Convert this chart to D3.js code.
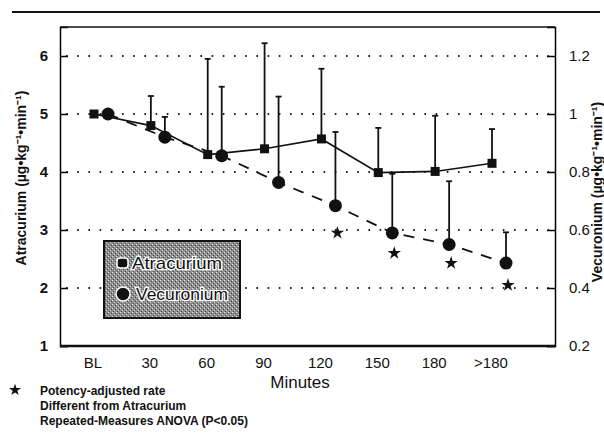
<!DOCTYPE html>
<html>
<head>
<meta charset="utf-8">
<script src="https://cdn.jsdelivr.net/npm/d3@7"></script>
<style>
body { margin: 0; background: #fff; }
svg text { font-family: "Liberation Sans Narrow", "Arial Narrow", "Liberation Sans", Arial, sans-serif; fill: #111; }
</style>
</head>
<body>
<div id="chart"></div>
<script>
var categories = ["BL", "30", "60", "90", "120", "150", "180", ">180"];
// Atracurium, left axis
var atraMean = [5.0, 4.80, 4.30, 4.40, 4.57, 3.99, 4.01, 4.15];
var atraUpper = [null, 5.31, 5.95, 6.22, 5.78, 4.76, 4.97, 4.74];
// Vecuronium, right axis
var vecMean = [1.0, 0.92, 0.856, 0.764, 0.684, 0.59, 0.55, 0.486];
var vecUpper = [null, 0.99, 1.094, 1.06, 0.938, 0.794, 0.768, 0.592];
// significance stars (right-axis units)
var starCats = ["120", "150", "180", ">180"];
var starVals = [0.59, 0.52, 0.486, 0.41];
var leftTicks = [1, 2, 3, 4, 5, 6];
var rightTicks = [0.2, 0.4, 0.6, 0.8, 1, 1.2];
var footnote = ["Potency-adjusted rate", "Different from Atracurium", "Repeated-Measures ANOVA (P<0.05)"];

var width = 604, height = 448;
var margin = {top: 27, right: 49, bottom: 102, left: 60};

var svg = d3.select("#chart").append("svg")
	.attr("width", width)
	.attr("height", height);

var yL = d3.scaleLinear().domain([1, 6.5]).range([height - margin.bottom, margin.top]);
var yR = d3.scaleLinear().domain([0.2, 1.3]).range([height - margin.bottom, margin.top]);
var x = d3.scalePoint().domain(categories).range([93, 491]);

// top rule
svg.append("line")
	.attr("x1", 12).attr("x2", 600)
	.attr("y1", 12).attr("y2", 12)
	.attr("stroke", "#111").attr("stroke-width", 2);

// dotted grid
svg.append("g").selectAll("line")
	.data([2, 3, 4, 5, 6])
	.enter().append("line")
	.attr("x1", margin.left + 6).attr("x2", width - margin.right - 6)
	.attr("y1", function(d) { return yL(d); })
	.attr("y2", function(d) { return yL(d); })
	.attr("stroke", "#222").attr("stroke-width", 2)
	.attr("stroke-dasharray", "1.6,9.6");

// left axis
var leftAxis = d3.axisLeft(yL).tickValues(leftTicks).tickSize(-8).tickPadding(12).tickFormat(d3.format("d"));
var gl = svg.append("g")
	.attr("transform", "translate(" + margin.left + ",0)")
	.call(leftAxis);
gl.select(".domain").attr("stroke-width", 1.5);
gl.selectAll(".tick line").attr("stroke-width", 1.5);
gl.selectAll(".tick text").attr("font-size", "15px").attr("font-weight", "bold").attr("fill", "#111")
	.style("font-family", "'Liberation Sans', Arial, sans-serif");

// right axis
var rightAxis = d3.axisRight(yR).tickValues(rightTicks).tickSize(-8).tickPadding(14).tickFormat(d3.format("~g"));
var gr = svg.append("g")
	.attr("transform", "translate(" + (width - margin.right) + ",0)")
	.call(rightAxis);
gr.select(".domain").attr("stroke-width", 1.5);
gr.selectAll(".tick line").attr("stroke-width", 1.5);
gr.selectAll(".tick text").attr("font-size", "15px").attr("fill", "#111")
	.style("font-family", "'Liberation Sans', Arial, sans-serif");

// top and bottom of the box
svg.append("line")
	.attr("x1", margin.left).attr("x2", width - margin.right)
	.attr("y1", margin.top).attr("y2", margin.top)
	.attr("stroke", "#111").attr("stroke-width", 1.5);
svg.append("line")
	.attr("x1", margin.left).attr("x2", width - margin.right)
	.attr("y1", height - margin.bottom).attr("y2", height - margin.bottom)
	.attr("stroke", "#111").attr("stroke-width", 2.5);

// category labels
svg.append("g").selectAll("text")
	.data(categories)
	.enter().append("text")
	.attr("x", function(d) { return x(d); })
	.attr("y", 368)
	.attr("text-anchor", "middle")
	.attr("font-size", "15px")
	.style("font-family", "'Liberation Sans', Arial, sans-serif")
	.text(function(d) { return d; });

// axis titles
svg.append("text")
	.attr("x", 300).attr("y", 388)
	.attr("text-anchor", "middle")
	.attr("font-size", "17px")
	.style("font-family", "'Liberation Sans', Arial, sans-serif")
	.text("Minutes");

svg.append("text")
	.attr("transform", "translate(26,178) rotate(-90)")
	.attr("text-anchor", "middle")
	.attr("font-size", "14px")
	.attr("font-weight", "bold")
	.text("Atracurium (\u00b5g\u2022kg\u207b\u00b9\u2022min\u207b\u00b9)");

svg.append("text")
	.attr("transform", "translate(602,192) rotate(-90)")
	.attr("text-anchor", "middle")
	.attr("font-size", "14px")
	.attr("font-weight", "bold")
	.text("Vecuronium (\u00b5g\u2022kg\u207b\u00b9\u2022min\u207b\u00b9)");

var sqOff = 1, ciOff = 15;

// error bars
function errorBars(means, uppers, y, off) {
	var g = svg.append("g");
	categories.forEach(function(c, i) {
		if (uppers[i] == null) return;
		var cx = x(c) + off;
		g.append("line")
			.attr("x1", cx).attr("x2", cx)
			.attr("y1", y(means[i])).attr("y2", y(uppers[i]))
			.attr("stroke", "#111").attr("stroke-width", 1.8);
		g.append("line")
			.attr("x1", cx - 3).attr("x2", cx + 3)
			.attr("y1", y(uppers[i])).attr("y2", y(uppers[i]))
			.attr("stroke", "#111").attr("stroke-width", 1.8);
	});
}
errorBars(atraMean, atraUpper, yL, sqOff);
errorBars(vecMean, vecUpper, yR, ciOff);

// lines
var atraLine = d3.line()
	.x(function(d, i) { return x(categories[i]) + sqOff; })
	.y(function(d) { return yL(d); });
var vecLine = d3.line()
	.x(function(d, i) { return x(categories[i]) + ciOff; })
	.y(function(d) { return yR(d); });

svg.append("path")
	.datum(vecMean)
	.attr("d", vecLine)
	.attr("fill", "none").attr("stroke", "#111").attr("stroke-width", 1.8)
	.attr("stroke-dasharray", "11,9");
svg.append("path")
	.datum(atraMean)
	.attr("d", atraLine)
	.attr("fill", "none").attr("stroke", "#111").attr("stroke-width", 1.6);

// markers
svg.append("g").selectAll("rect")
	.data(atraMean)
	.enter().append("rect")
	.attr("x", function(d, i) { return x(categories[i]) + sqOff - 4.5; })
	.attr("y", function(d) { return yL(d) - 4.5; })
	.attr("width", 9).attr("height", 9)
	.attr("fill", "#111");

svg.append("g").selectAll("circle")
	.data(vecMean)
	.enter().append("circle")
	.attr("cx", function(d, i) { return x(categories[i]) + ciOff; })
	.attr("cy", function(d) { return yR(d); })
	.attr("r", 6.5)
	.attr("fill", "#111");

// stars
var star = d3.symbol().type(d3.symbolStar).size(55);
svg.append("g").selectAll("path")
	.data(starVals)
	.enter().append("path")
	.attr("d", star)
	.attr("transform", function(d, i) { return "translate(" + (x(starCats[i]) + ciOff + 2) + "," + yR(d) + ")"; })
	.attr("fill", "#111");

// legend
var defs = svg.append("defs");
var pat = defs.append("pattern")
	.attr("id", "stipple")
	.attr("width", 4).attr("height", 4)
	.attr("patternUnits", "userSpaceOnUse");
pat.append("rect").attr("width", 4).attr("height", 4).attr("fill", "#8c8c8c");
pat.append("rect").attr("x", 0).attr("y", 0).attr("width", 1).attr("height", 1).attr("fill", "#e6e6e6");
pat.append("rect").attr("x", 2).attr("y", 2).attr("width", 1).attr("height", 1).attr("fill", "#d0d0d0");
pat.append("rect").attr("x", 3).attr("y", 1).attr("width", 1).attr("height", 1).attr("fill", "#444");
pat.append("rect").attr("x", 1).attr("y", 3).attr("width", 1).attr("height", 1).attr("fill", "#555");

var legend = svg.append("g");
legend.append("rect")
	.attr("x", 104).attr("y", 241)
	.attr("width", 136).attr("height", 77)
	.attr("fill", "url(#stipple)")
	.attr("stroke", "#111").attr("stroke-width", 2);
legend.append("rect")
	.attr("x", 117).attr("y", 258).attr("width", 11).attr("height", 10)
	.attr("rx", 3)
	.attr("fill", "#111").attr("stroke", "#fff").attr("stroke-width", 1.5);
legend.append("circle")
	.attr("cx", 123).attr("cy", 294).attr("r", 7)
	.attr("fill", "#111").attr("stroke", "#fff").attr("stroke-width", 1.5);
legend.selectAll("text")
	.data(["Atracurium", "Vecuronium"])
	.enter().append("text")
	.attr("x", function(d, i) { return 132 + i * 4; })
	.attr("y", function(d, i) { return 269 + i * 31; })
	.attr("font-size", "17px")
	.attr("textLength", function(d, i) { return i ? 92 : 90; })
	.attr("lengthAdjust", "spacingAndGlyphs")
	.style("font-family", "'Liberation Sans', Arial, sans-serif")
	.attr("stroke", "#fff").attr("stroke-width", 2.5)
	.style("paint-order", "stroke")
	.text(function(d) { return d; });

// footnote
svg.append("path")
	.attr("d", d3.symbol().type(d3.symbolStar).size(45))
	.attr("transform", "translate(15,390)")
	.attr("fill", "#111");
svg.append("g").selectAll("text")
	.data(footnote)
	.enter().append("text")
	.attr("x", 40)
	.attr("y", function(d, i) { return 395 + i * 15; })
	.attr("font-size", "12px")
	.attr("font-weight", "bold")
	.text(function(d) { return d; });
</script>
</body>
</html>
